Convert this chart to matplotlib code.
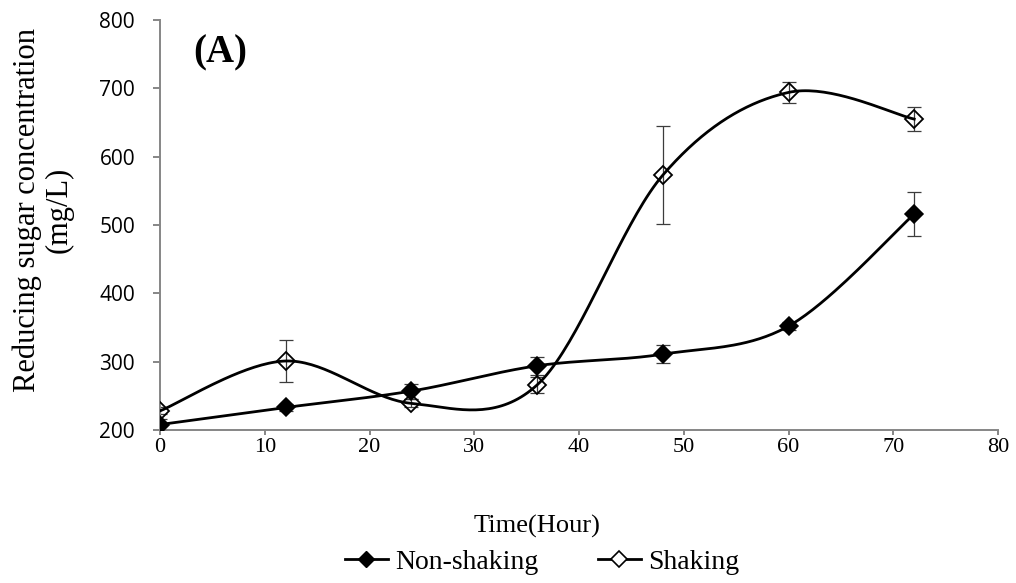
import numpy as np
import matplotlib
matplotlib.use("Agg")
import matplotlib.pyplot as plt
from matplotlib.lines import Line2D

# Sampling times (hours)
hours = [0, 12, 24, 36, 48, 60, 72]

# Reducing sugar concentration (mg/L) and standard deviations
non_shaking = [208, 233, 257, 294, 311, 352, 516]
non_shaking_err = [8, 5, 11, 13, 13, 6, 32]
shaking = [228, 301, 239, 266, 573, 694, 655]
shaking_err = [5, 30, 6, 12, 72, 15, 18]

x_ticks = [0, 10, 20, 30, 40, 50, 60, 70, 80]
y_ticks = [200, 300, 400, 500, 600, 700, 800]

SERIF = "Liberation Serif"
SANS = "Open Sans"
GRAY = "#868686"


def smooth_curve(x, y, n=40):
    """Smoothed line through the points using cubic Bezier segments
    with Catmull-Rom control points."""
    x = np.asarray(x, float)
    y = np.asarray(y, float)
    px = np.concatenate([[x[0]], x, [x[-1]]])
    py = np.concatenate([[y[0]], y, [y[-1]]])
    xs, ys = [], []
    t = np.linspace(0, 1, n)
    for i in range(1, len(px) - 2):
        p0 = np.array([px[i], py[i]])
        p3 = np.array([px[i + 1], py[i + 1]])
        c1 = p0 + (np.array([px[i + 1], py[i + 1]]) - np.array([px[i - 1], py[i - 1]])) / 6
        c2 = p3 - (np.array([px[i + 2], py[i + 2]]) - np.array([px[i], py[i]])) / 6
        b = ((1 - t) ** 3)[:, None] * p0 + (3 * (1 - t) ** 2 * t)[:, None] * c1 \
            + (3 * (1 - t) * t ** 2)[:, None] * c2 + (t ** 3)[:, None] * p3
        xs.append(b[:, 0])
        ys.append(b[:, 1])
    return np.concatenate(xs), np.concatenate(ys)


fig = plt.figure(figsize=(10.16, 5.83), dpi=100)
ax = fig.add_axes([0.1575, 0.2624, 0.8248, 0.7033])

# Error bars
err_kw = dict(fmt="none", ecolor="#3c3c3c", elinewidth=0.9, capsize=4.7,
              capthick=0.9, zorder=2)
ax.errorbar(hours, non_shaking, yerr=non_shaking_err, **err_kw)
ax.errorbar(hours, shaking, yerr=shaking_err, **err_kw)

# Smoothed lines
sx, sy = smooth_curve(hours, non_shaking)
ax.plot(sx, sy, color="black", lw=2.0, zorder=3)
sx, sy = smooth_curve(hours, shaking)
ax.plot(sx, sy, color="black", lw=2.0, zorder=3)

# Markers
ax.plot(hours, non_shaking, ls="none", marker="D", ms=9.5, mfc="black",
        mec="black", mew=1.1, zorder=4)
ax.plot(hours, shaking, ls="none", marker="D", ms=9.5, mfc="none",
        mec="black", mew=1.3, zorder=5)

ax.set_xlim(0, 80)
ax.set_ylim(200, 800)
ax.set_xticks(x_ticks)
ax.set_yticks(y_ticks)
ax.set_xticklabels([str(v) for v in x_ticks], fontfamily=SERIF, fontsize=16)
ax.set_yticklabels([str(v) for v in y_ticks], fontfamily=SANS, fontsize=15)

for side in ("top", "right"):
    ax.spines[side].set_visible(False)
for side in ("left", "bottom"):
    ax.spines[side].set_color(GRAY)
    ax.spines[side].set_linewidth(1.4)
ax.tick_params(axis="both", direction="out", color=GRAY, width=1.4)
ax.tick_params(axis="x", length=3.6, pad=2)
ax.tick_params(axis="y", length=5, pad=13)

ax.text(220 / 1016, 1 - 53 / 583, "(A)", transform=fig.transFigure,
        fontfamily=SERIF, fontsize=28, fontweight="bold",
        ha="center", va="center")

fig.text(43 / 1016, 1 - 210 / 583, "Reducing sugar concentration\n(mg/L)",
         rotation=90, ha="center", va="center", fontfamily=SERIF,
         fontsize=22, linespacing=1.1)
fig.text(537 / 1016, 1 - 526 / 583, "Time(Hour)", ha="center", va="center",
         fontfamily=SERIF, fontsize=19)

handles = [
    Line2D([], [], color="black", lw=2.0, marker="D", ms=8, mfc="black", mec="black"),
    Line2D([], [], color="black", lw=2.0, marker="D", ms=8, mfc="white", mec="black",
           mew=1.2),
]
fig.legend(handles, ["Non-shaking", "Shaking"], loc="center",
           bbox_to_anchor=(542 / 1016, 1 - 562 / 583), ncol=2, frameon=False,
           prop={"family": SERIF, "size": 20}, handlelength=1.55,
           handletextpad=0.25, columnspacing=2.15, borderaxespad=0,
           borderpad=0)

fig.savefig("out.png", dpi=100)
